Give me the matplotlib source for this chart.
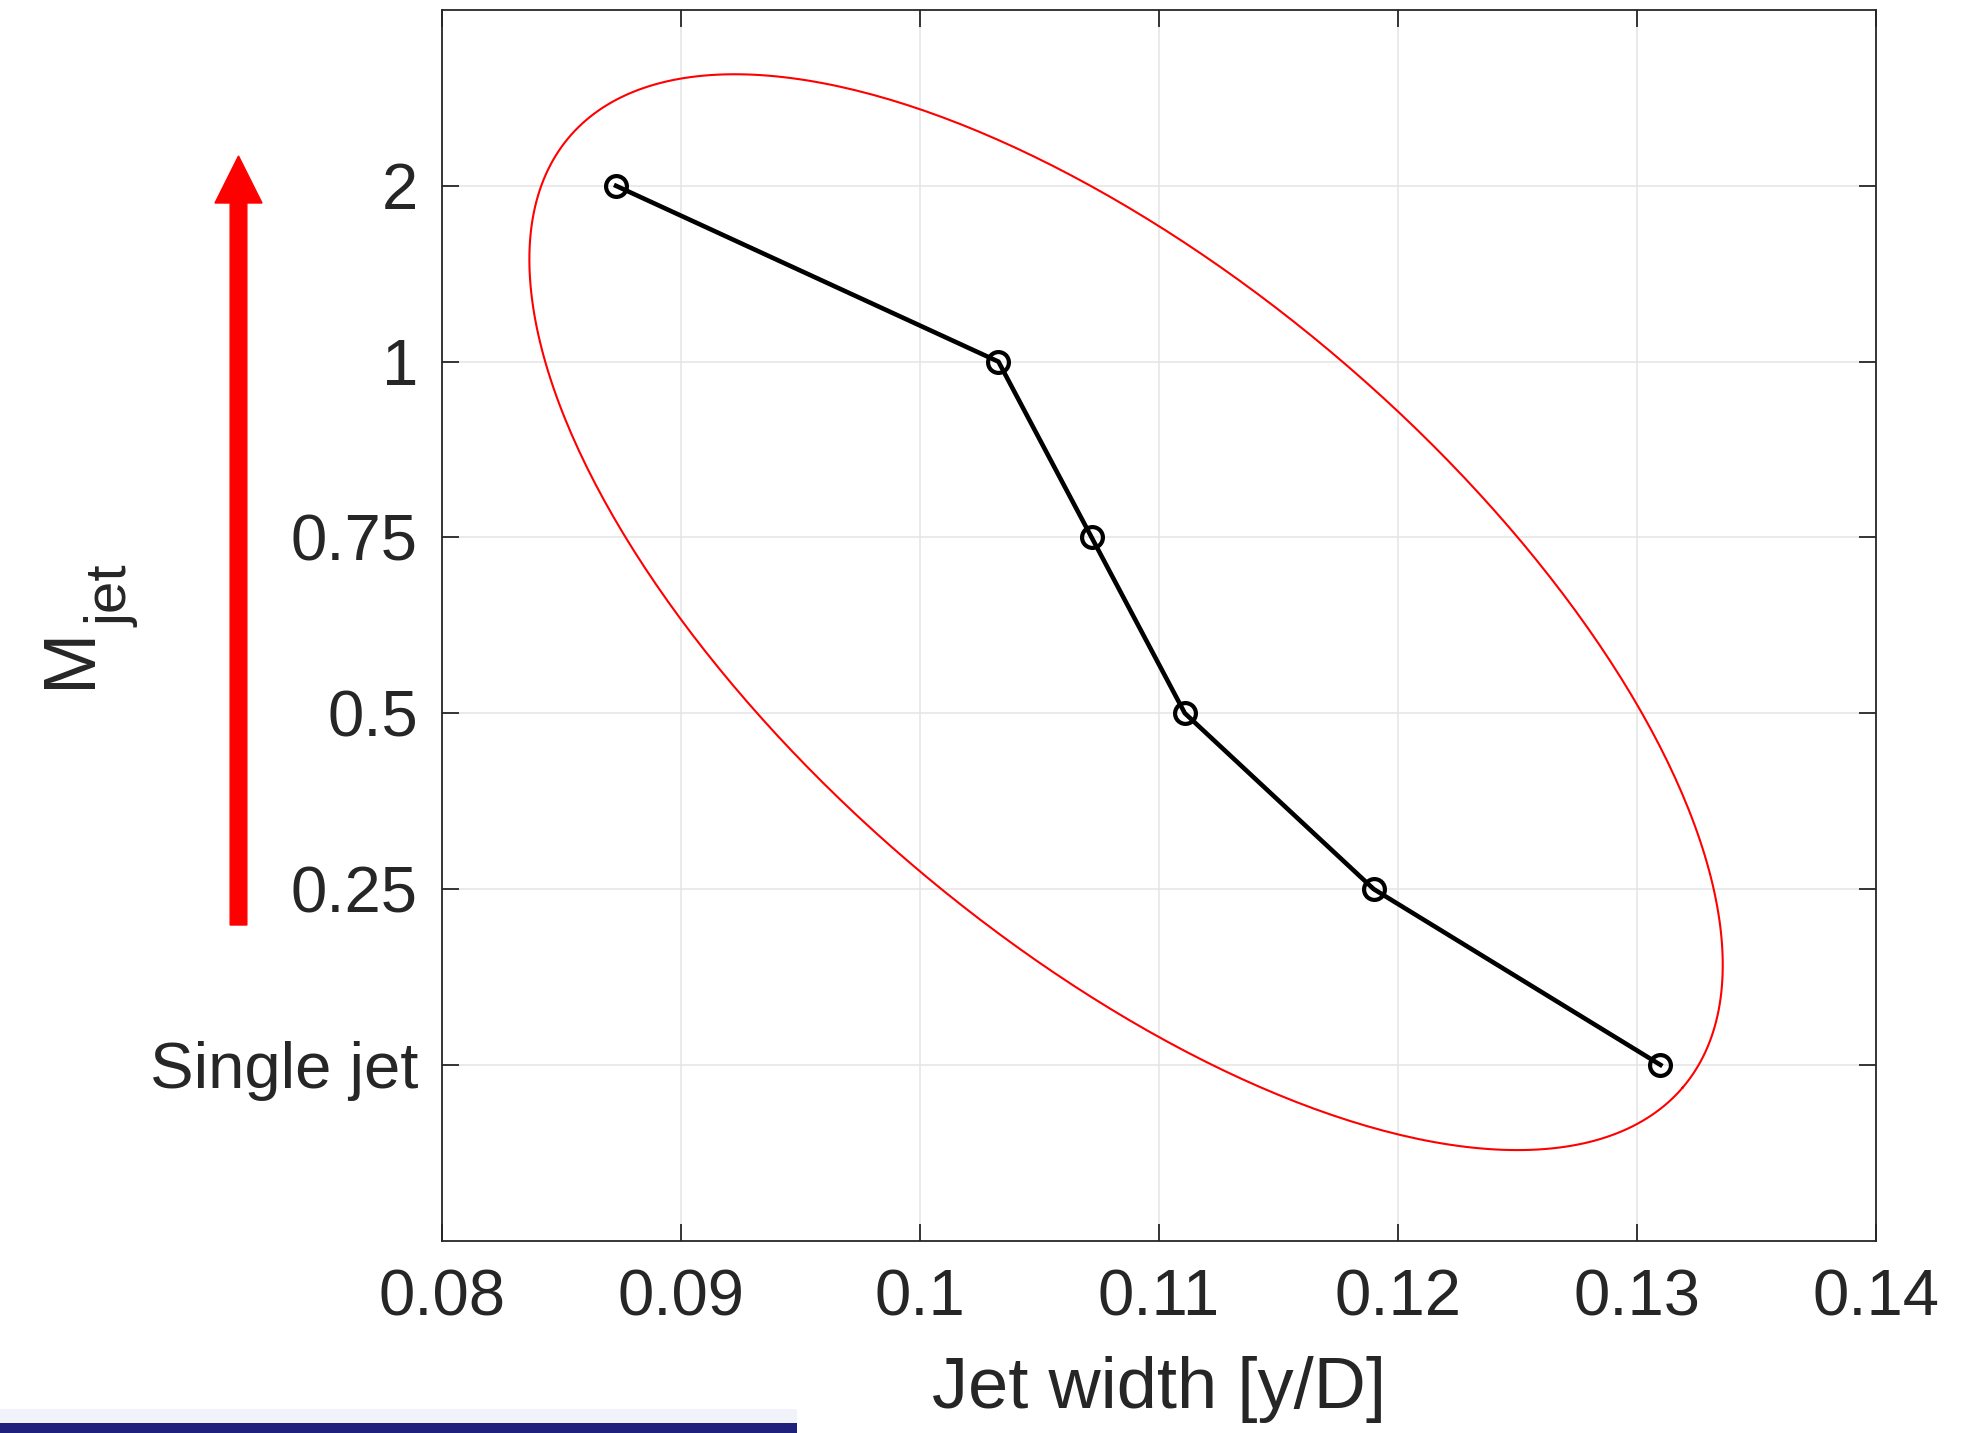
import matplotlib
matplotlib.use("Agg")
import matplotlib.pyplot as plt
import matplotlib.patches as patches
import numpy as np

# Data
jet_width = [0.1310, 0.1190, 0.1111, 0.1072, 0.1033, 0.0873]
m_jet_labels = ['Single jet', '0.25', '0.5', '0.75', '1', '2']
x_ticks = [0.08, 0.09, 0.10, 0.11, 0.12, 0.13, 0.14]
x_tick_labels = ['0.08', '0.09', '0.1', '0.11', '0.12', '0.13', '0.14']

plt.rcParams['font.family'] = ['Liberation Sans', 'DejaVu Sans']
txt = '#262626'

W, H = 1967, 1433
fig = plt.figure(figsize=(W / 100, H / 100), dpi=100)
ax_l, ax_b, ax_w, ax_h = 0.2245, 0.1342, 0.7290, 0.8588
ax = fig.add_axes([ax_l, ax_b, ax_w, ax_h])

y_pos = np.arange(len(m_jet_labels))
ax.plot(jet_width, y_pos, '-o', color='black', lw=3.3, markersize=15,
        markerfacecolor='none', markeredgewidth=3.0, zorder=3)

ax.set_xlim(0.08, 0.14)
ax.set_ylim(-1, len(m_jet_labels))
ax.set_xticks(x_ticks)
ax.set_xticklabels(x_tick_labels)
ax.set_yticks(y_pos)
ax.set_yticklabels(m_jet_labels)

# red ellipse drawn in pixel geometry, mapped back to data units
px_per_x = ax_w * W / (0.14 - 0.08)
px_per_y = ax_h * H / (len(m_jet_labels) + 1)
cx, cy = 0.10864, 2.575
a_px, b_px, ang = 732.0, 331.0, np.deg2rad(-40.5)
t = np.linspace(0, 2 * np.pi, 400)
dx = a_px * np.cos(t) * np.cos(ang) - b_px * np.sin(t) * np.sin(ang)
dy = a_px * np.cos(t) * np.sin(ang) + b_px * np.sin(t) * np.cos(ang)
ax.plot(cx + dx / px_per_x, cy + dy / px_per_y, color='red', lw=1.5, zorder=2)

ax.grid(True, color='#e4e4e4', lw=1.1)
ax.set_axisbelow(True)
for s in ax.spines.values():
    s.set_color(txt)
    s.set_linewidth(1.3)
ax.tick_params(direction='in', length=12, width=1.3, color=txt, top=True, right=True,
               labelsize=47, labelcolor=txt)
ax.tick_params(axis='x', pad=20)
ax.tick_params(axis='y', pad=17)

ax.set_xlabel('Jet width [y/D]', fontsize=52, color=txt, labelpad=20)

# y label: M with a large subscript "jet", rotated
fig.text(90 / W, (H - 688) / H, 'M', rotation=90, rotation_mode='anchor',
         ha='left', va='baseline', fontsize=53, color=txt)
fig.text(127 / W, (H - 627) / H, 'jet', rotation=90, rotation_mode='anchor',
         ha='left', va='baseline', fontsize=42, color=txt)

# red arrow to the left of the axes
arrow = patches.FancyArrow(2.385, (H - 925) / 100, 0, (925 - 156) / 100, width=0.167,
                           head_width=0.47, head_length=0.47, length_includes_head=True,
                           color='red', transform=fig.dpi_scale_trans, clip_on=False)
fig.add_artist(arrow)

# screenshot bar at bottom
fig.add_artist(patches.Rectangle((0, 0), 797 / W, 10 / H, transform=fig.transFigure,
                                 color='#1f1f7c', lw=0))
fig.add_artist(patches.Rectangle((0, 10 / H), 797 / W, 14 / H, transform=fig.transFigure,
                                 color='#f2f2fa', lw=0))

fig.savefig('out.png', dpi=100)
